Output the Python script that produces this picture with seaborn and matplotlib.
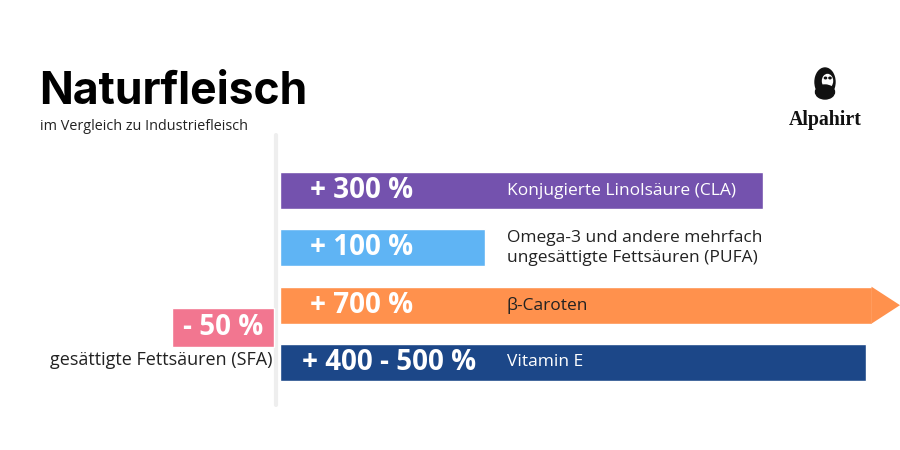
import matplotlib
matplotlib.use("Agg")
import matplotlib.pyplot as plt
import seaborn as sns
import pandas as pd
from matplotlib.patches import Ellipse, Polygon

# ---------------- data ----------------
categories = ["Konjugierte Linolsäure (CLA)",
              "Omega-3 und andere mehrfach\nungesättigte Fettsäuren (PUFA)",
              "β-Caroten",
              "Vitamin E"]
value_labels = ["+ 300 %", "+ 100 %", "+ 700 %", "+ 400 - 500 %"]
bar_lengths = [483, 205, 592, 586]          # visual bar length (px units)
bar_colors = ["#7452ae", "#5fb4f4", "#ff914d", "#1c4788"]
name_colors = ["white", "#222222", "#222222", "white"]

sfa_label = "gesättigte Fettsäuren (SFA)"
sfa_value_label = "- 50 %"
sfa_length = -102
sfa_color = "#f27690"

title = "Naturfleisch"
subtitle = "im Vergleich zu Industriefleisch"
brand = "Alpahirt"

df = pd.DataFrame({"category": categories, "length": bar_lengths})

# ---------------- figure ----------------
sns.set_theme(style="white")
plt.rcParams["font.family"] = ["Open Sans", "DejaVu Sans"]

fig = plt.figure(figsize=(9, 4.5), dpi=100)
ax = fig.add_axes([0, 0, 1, 1])
PX = 57.33  # pixels per category step

sns.barplot(data=df, x="length", y="category", hue="category",
            palette=bar_colors, orient="h", width=0.645, ax=ax,
            legend=False, saturation=1)
ax.set_xlim(-280, 620)
ax.set_ylim(3 + 87.5 / PX, -190.5 / PX)

# arrow tip on the orange bar
for i, p in enumerate(ax.patches):
    if i == 2:
        x1 = p.get_x() + p.get_width()
        yc = p.get_y() + p.get_height() / 2
        tri = Polygon([(x1 - 0.5, p.get_y()), (x1 + 28, yc),
                       (x1 - 0.5, p.get_y() + p.get_height())],
                      closed=True, color=bar_colors[2], lw=0)
        ax.add_patch(tri)

# negative SFA bar
sfa_y = (327.5 - 190.5) / PX
ax.barh(sfa_y, sfa_length, left=-6, height=0.68, color=sfa_color)
ax.text(-6 + sfa_length / 2, sfa_y, sfa_value_label, ha="center", va="center",
        color="white", fontsize=20, fontweight="bold")
ax.text(-8, (360 - 190.5) / PX, sfa_label, ha="right", va="center",
        color="#222222", fontsize=13)

# vertical axis line
ax.plot([-4, -4], [(135 - 190.5) / PX, (405 - 190.5) / PX], color="#eeeeee", lw=3, zorder=0)

# bar texts
for i, (vl, nm, nc) in enumerate(zip(value_labels, categories, name_colors)):
    ax.text(22 if i == 3 else 30, i, vl, ha="left", va="center", color="white",
            fontsize=20, fontweight="bold")
    ax.text(227, i, nm, ha="left", va="center", color=nc, fontsize=12.5,
            linespacing=1.35)

ax.set_axis_off()

# ---------------- title & logo overlay ----------------
ov = fig.add_axes([0, 0, 1, 1])
ov.set_xlim(0, 900)
ov.set_ylim(450, 0)
ov.set_axis_off()
ov.patch.set_alpha(0)

ov.text(39, 92, title, ha="left", va="center", fontsize=32, fontweight="bold",
        color="black", family=["Inter", "DejaVu Sans"])
ov.text(40, 126, subtitle, ha="left", va="center", fontsize=10.4, color="#222222")

# logo head (simple bearded silhouette)
ov.add_patch(Ellipse((825, 82), 20, 28, color="#111111"))
ov.add_patch(Ellipse((827.5, 81), 10, 13, color="white"))
ov.add_patch(Ellipse((825, 92), 19, 14, color="#111111"))
ov.add_patch(Ellipse((825.5, 78), 2.2, 1.6, color="#111111"))
ov.add_patch(Ellipse((830, 78), 2.2, 1.6, color="#111111"))
ov.text(825, 120, brand, ha="center", va="center", fontsize=14.3, fontweight="bold",
        color="#111111", family=["Liberation Serif", "DejaVu Serif"])

fig.savefig("out.png", dpi=100)
